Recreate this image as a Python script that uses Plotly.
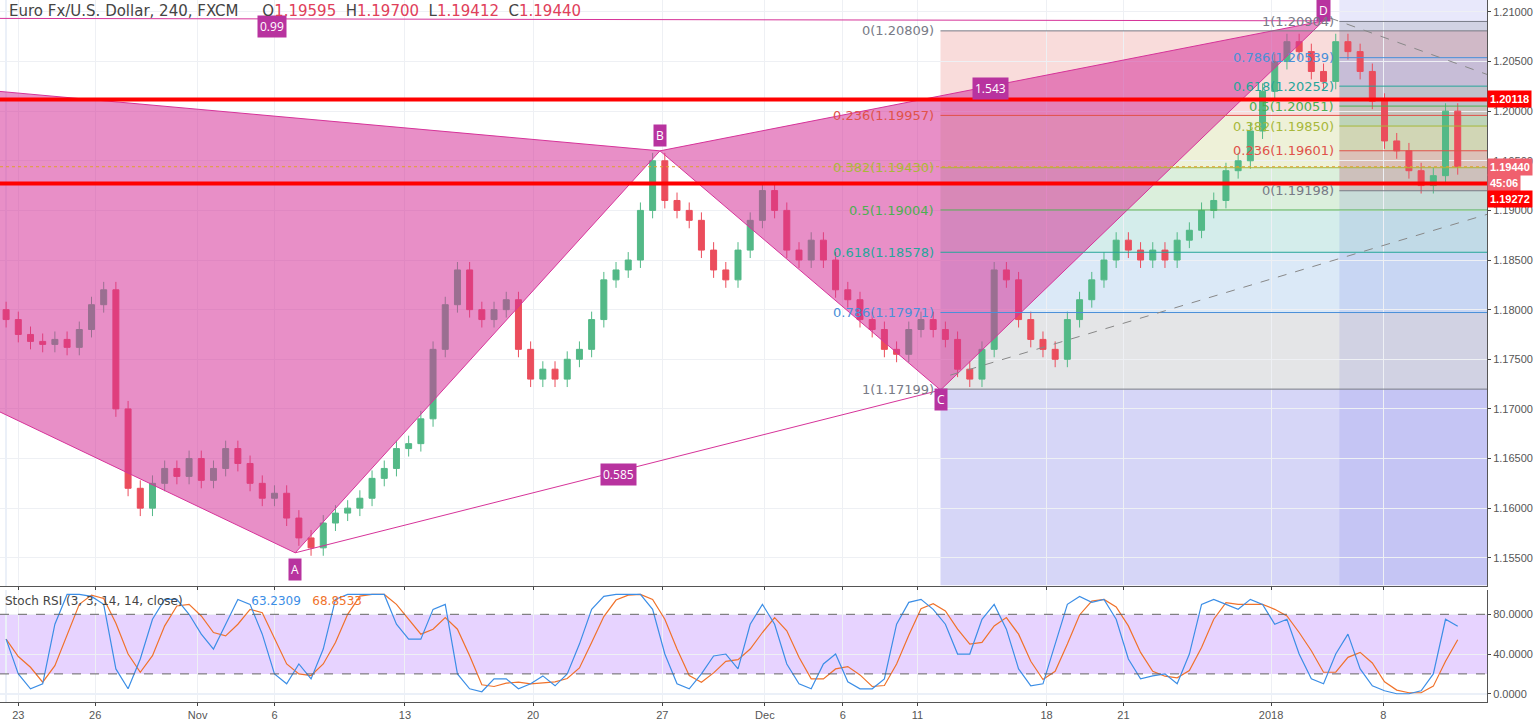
import plotly.graph_objects as go
from plotly.subplots import make_subplots

# 12h candles, closes
closes = [1.1790, 1.1775, 1.1768, 1.1765, 1.1770, 1.1762, 1.1780, 1.1805, 1.1820, 1.1700,
          1.1620, 1.1600, 1.1625, 1.1640, 1.1632, 1.1650, 1.1628, 1.1640, 1.1660, 1.1645,
          1.1625, 1.1610, 1.1615, 1.1590, 1.1570, 1.1560, 1.1585, 1.1595, 1.1600, 1.1610,
          1.1630, 1.1640, 1.1660, 1.1665, 1.1690, 1.1760, 1.1805, 1.1840, 1.1800, 1.1790,
          1.1800, 1.1810, 1.1760, 1.1730, 1.1740, 1.1730, 1.1750, 1.1760, 1.1790, 1.1830,
          1.1840, 1.1850, 1.1900, 1.1950, 1.1910, 1.1900, 1.1890, 1.1860, 1.1840, 1.1830,
          1.1860, 1.1890, 1.1920, 1.1900, 1.1860, 1.1850, 1.1870, 1.1850, 1.1820, 1.1810,
          1.1790, 1.1780, 1.1760, 1.1755, 1.1780, 1.1790, 1.1780, 1.1770, 1.1740, 1.1730,
          1.1760, 1.1840, 1.1830, 1.1790, 1.1770, 1.1760, 1.1750, 1.1790, 1.1810, 1.1830,
          1.1850, 1.1870, 1.1860, 1.1850, 1.1860, 1.1850, 1.1870, 1.1880, 1.1900, 1.1910,
          1.1940, 1.1950, 1.1980, 1.2020, 1.2050, 1.2070, 1.2060, 1.2040, 1.2030, 1.2070,
          1.2060, 1.2040, 1.2010, 1.1970, 1.1960, 1.1940, 1.1925, 1.1935, 1.2000, 1.1944]
first_open = 1.1800
stoch_k = [55, 20, 5, 10, 70, 100, 100, 98, 90, 25, 5, 35, 75, 95, 95, 80, 60, 45, 70, 95,
           90, 60, 20, 10, 30, 15, 45, 95, 100, 100, 100, 100, 70, 55, 55, 85, 90, 20, 5, 2,
           15, 15, 5, 10, 18, 8, 20, 50, 85, 98, 100, 100, 100, 85, 40, 10, 5, 20, 38, 40,
           25, 70, 90, 70, 30, 10, 5, 30, 40, 12, 5, 5, 15, 70, 92, 95, 85, 70, 40, 40,
           75, 90, 65, 25, 8, 10, 50, 90, 98, 92, 95, 75, 35, 15, 18, 20, 10, 40, 90, 95,
           90, 85, 95, 90, 70, 75, 40, 15, 10, 40, 60, 25, 8, 3, 0, 0, 3, 20, 75, 68]

# harmonic pattern points (bar index, price)
pat_names = ["X", "A", "B", "C", "D"]
pat_x = [-68.4, 23.7, 53.6, 76.6, 108.0]
pat_y = [1.2095, 1.1555, 1.1960, 1.1719, 1.2091]

fib1_levels = [0, 0.236, 0.382, 0.5, 0.618, 0.786, 1]
fib1_prices = [1.20809, 1.19957, 1.19430, 1.19004, 1.18578, 1.17971, 1.17199]
fib2_levels = [1, 0.786, 0.618, 0.5, 0.382, 0.236, 0]
fib2_prices = [1.20904, 1.20539, 1.20252, 1.20051, 1.19850, 1.19601, 1.19198]
fib_colors = {0: "#787b86", 0.236: "#e0524a", 0.382: "#a8b83a", 0.5: "#4caf50",
              0.618: "#26a69a", 0.786: "#4a90d9", 1: "#787b86"}
red_levels = [1.20118, 1.19272]
last_price = 1.19440

tick_pos = [1.0, 7.3, 15.7, 22.0, 32.7, 43.2, 53.8, 62.2, 68.6, 74.7, 85.3, 91.6, 103.7, 112.9]
tick_text = ["23", "26", "Nov", "6", "13", "20", "27", "Dec", "6", "11", "18", "21", "2018", "8"]

XL, XR = -0.5, 121.4
YB, YT = 1.1522, 1.2112

n = len(closes)
idx = list(range(n))
opens = [first_open] + closes[:-1]
highs = [max(o, c) + 0.0008 for o, c in zip(opens, closes)]
lows = [min(o, c) - 0.0008 for o, c in zip(opens, closes)]
stoch_d = [sum(stoch_k[max(0, i - 2):i + 1]) / len(stoch_k[max(0, i - 2):i + 1]) for i in range(n)]

fig = make_subplots(rows=2, cols=1, shared_xaxes=True, vertical_spacing=0.007,
                    row_heights=[0.84, 0.16])

PINK = "rgb(214,51,153)"
shapes = []
# background zones
shapes.append(dict(type="rect", x0=76.6, x1=XR, y0=YB, y1=1.17199, fillcolor="rgba(120,120,230,0.3)", line_width=0, layer="below"))
shapes.append(dict(type="rect", x0=109.3, x1=XR, y0=YB, y1=YT, fillcolor="rgba(110,110,230,0.16)", line_width=0, layer="below"))

def fib_bands(x0, levels, prices):
    for i in range(len(levels) - 1):
        col = fib_colors[levels[i + 1]] if levels[0] == 0 else fib_colors[levels[i]]
        r, g, b = int(col[1:3], 16), int(col[3:5], 16), int(col[5:7], 16)
        shapes.append(dict(type="rect", x0=x0, x1=XR, y0=prices[i + 1], y1=prices[i],
                           fillcolor=f"rgba({r},{g},{b},0.2)", line_width=0, layer="below"))
    for lv, p in zip(levels, prices):
        shapes.append(dict(type="line", x0=x0, x1=XR, y0=p, y1=p, line=dict(color=fib_colors[lv], width=1)))

fib_bands(76.6, fib1_levels, fib1_prices)
fib_bands(109.3, fib2_levels, fib2_prices)

for p in red_levels:
    shapes.append(dict(type="line", x0=XL, x1=XR, y0=p, y1=p, line=dict(color="#ff0000", width=4)))
shapes.append(dict(type="line", x0=XL, x1=XR, y0=last_price, y1=last_price, line=dict(color="#e0a030", width=1, dash="dot")))
shapes.append(dict(type="line", x0=77.4, x1=XR, y0=1.1734, y1=1.1896, line=dict(color="#888", width=1, dash="dash")))
shapes.append(dict(type="line", x0=108.5, x1=XR, y0=1.2094, y1=1.2037, line=dict(color="#888", width=1, dash="dash")))

# pattern triangles
X, A, B, C, D = [(pat_x[i], pat_y[i]) for i in range(5)]
for tri in [(X, A, B), (B, C, D)]:
    fig.add_trace(go.Scatter(x=[p[0] for p in tri] + [tri[0][0]], y=[p[1] for p in tri] + [tri[0][1]],
                             fill="toself", fillcolor="rgba(214,51,153,0.55)", mode="lines",
                             line=dict(color=PINK, width=1), hoverinfo="skip", showlegend=False), row=1, col=1)
for p, q in [(A, C), (X, D)]:
    fig.add_trace(go.Scatter(x=[p[0], q[0]], y=[p[1], q[1]], mode="lines", line=dict(color=PINK, width=1),
                             hoverinfo="skip", showlegend=False), row=1, col=1)

fig.add_trace(go.Candlestick(x=idx, open=opens, high=highs, low=lows, close=closes,
                             increasing=dict(line=dict(color="#53b987", width=1), fillcolor="#53b987"),
                             decreasing=dict(line=dict(color="#eb4d5c", width=1), fillcolor="#eb4d5c"),
                             whiskerwidth=0, showlegend=False), row=1, col=1)

# stoch rsi
fig.add_trace(go.Scatter(x=idx, y=stoch_d, mode="lines", line=dict(color="#f0722b", width=1.2), showlegend=False), row=2, col=1)
fig.add_trace(go.Scatter(x=idx, y=stoch_k, mode="lines", line=dict(color="#3c8ee6", width=1.2), showlegend=False), row=2, col=1)
shapes.append(dict(type="rect", xref="x2", yref="y2", x0=XL, x1=XR, y0=20, y1=80, fillcolor="rgba(175,110,255,0.3)", line_width=0, layer="below"))
for v in [20, 80]:
    shapes.append(dict(type="line", xref="x2", yref="y2", x0=XL, x1=XR, y0=v, y1=v, line=dict(color="#666", width=1, dash="dash")))

ann = []
def tag(x, y, text):
    ann.append(dict(x=x, y=y, xref="x", yref="y", text=text, showarrow=False, bgcolor="#b8339f",
                    font=dict(color="white", size=12, family="Open Sans"), borderpad=2))
tag(A[0], A[1] - 0.0017, "A")
tag(B[0], B[1] + 0.0015, "B")
tag(C[0], C[1] - 0.0010, "C")
tag(D[0], D[1] + 0.0010, "D")
tag(50.2, 1.1634, "0.585")
tag(80.7, 1.2023, "1.543")
tag(21.8, 1.2085, "0.99")

def fib_labels(xr, levels, prices):
    for lv, p in zip(levels, prices):
        ann.append(dict(x=xr, y=p, xref="x", yref="y", xanchor="right", text=f"{lv}({p:.5f})", showarrow=False,
                        font=dict(color=fib_colors[lv], size=13, family="Verdana, DejaVu Sans")))
fib_labels(76.2, fib1_levels, fib1_prices)
fib_labels(109.0, fib2_levels, fib2_prices)

def axis_tag(y, text, color):
    ann.append(dict(x=1.0, y=y, xref="paper", yref="y", xanchor="left", text=f"<b>{text}</b>", showarrow=False,
                    bgcolor=color, font=dict(color="white", size=11, family="Liberation Sans"), borderpad=2))
axis_tag(1.20118, "1.20118", "#ff0000")
axis_tag(1.19440, "1.19440", "#f0606e")
axis_tag(1.19280, "45:06", "#f0606e")
axis_tag(1.19110, "1.19272", "#ff0000")

ann.append(dict(x=0.005, y=1.0, xref="paper", yref="paper", xanchor="left", yanchor="top", showarrow=False,
                text="Euro Fx/U.S. Dollar, 240, FXCM     O<span style='color:#e0405a'>1.19595</span>  H<span style='color:#e0405a'>1.19700</span>  L<span style='color:#e0405a'>1.19412</span>  C<span style='color:#e0405a'>1.19440</span>",
                font=dict(size=15, color="#444", family="DejaVu Sans")))
ann.append(dict(x=0.002, y=0.156, xref="paper", yref="paper", xanchor="left", yanchor="top", showarrow=False,
                text="Stoch RSI (3, 3, 14, 14, close)                  <span style='color:#3c8ee6'>63.2309</span>   <span style='color:#f0722b'>68.8533</span>",
                font=dict(size=12, color="#444", family="DejaVu Sans")))

fig.update_layout(
    width=1540, height=720, template="plotly_white", paper_bgcolor="white", plot_bgcolor="white",
    margin=dict(l=0, r=53, t=0, b=18), shapes=shapes, annotations=ann, showlegend=False,
    font=dict(family="Liberation Sans", size=11, color="#555"),
)
fig.update_xaxes(range=[XL, XR], rangeslider_visible=False, showgrid=True, gridcolor="#eef0f4",
                 tickvals=tick_pos, ticktext=tick_text, ticks="outside", ticklen=3, showline=True, linecolor="#555")
fig.update_xaxes(showticklabels=False, row=1, col=1)
fig.update_yaxes(range=[YB, YT], side="right", tickvals=[1.155 + 0.005 * i for i in range(12)], tickformat=".5f",
                 gridcolor="#eef0f4", showline=True, linecolor="#555", ticks="outside", ticklen=3, row=1, col=1)
fig.update_yaxes(range=[-8.3, 104], side="right", tickvals=[0, 40, 80], tickformat=".4f",
                 gridcolor="#eef0f4", showline=True, linecolor="#555", ticks="outside", ticklen=3, row=2, col=1)
fig.write_html("out.html", config={"displayModeBar": False},
               post_script="document.body.style.margin='0';document.body.style.overflow='hidden';")
